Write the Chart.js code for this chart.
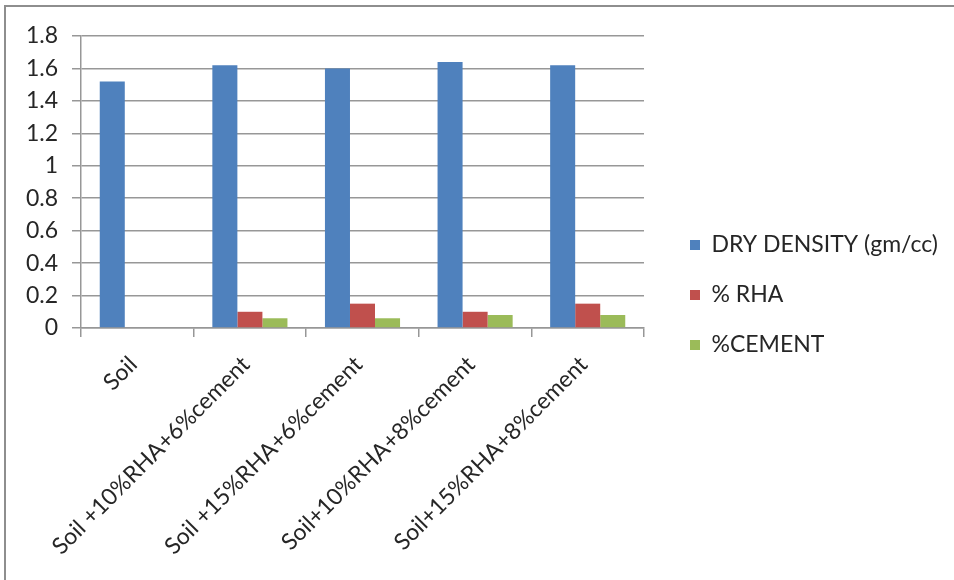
<!DOCTYPE html>
<html>
<head>
<meta charset="utf-8">
<script src="https://cdn.jsdelivr.net/npm/chart.js@4.4.1/dist/chart.umd.min.js"></script>
<style>
  html, body { margin: 0; padding: 0; background: #fff; }
  #wrap { position: relative; width: 954px; height: 580px; overflow: hidden; }
  #frame { position: absolute; left: 4px; top: 5px; right: -10px; bottom: -10px;
           border-top: 2px solid #8e8e8e; border-left: 2px solid #8e8e8e; pointer-events: none; }
  canvas { position: absolute; left: 0; top: 0; }
</style>
</head>
<body>
<div id="wrap">
  <canvas id="chart" width="954" height="580"></canvas>
  <div id="frame"></div>
</div>
<script>
// Mix designs tested
const categories = [
  'Soil',
  'Soil +10%RHA+6%cement',
  'Soil +15%RHA+6%cement',
  'Soil+10%RHA+8%cement',
  'Soil+15%RHA+8%cement'
];
// Series values
const dryDensity = [1.52, 1.62, 1.60, 1.64, 1.62];
const rhaPercent = [0, 0.10, 0.15, 0.10, 0.15];
const cementPercent = [0, 0.06, 0.06, 0.08, 0.08];
// Value axis
const yTicks = [0, 0.2, 0.4, 0.6, 0.8, 1, 1.2, 1.4, 1.6, 1.8];

const FONT = { family: 'Lato, "Open Sans", sans-serif', size: 23 };
const TEXT = '#262626';
const GRID = '#979797';
const LEGEND_WIDTH = 310;   // space reserved on the right for the legend
const LEGEND_INSET = 19;    // extra gap between plot area and legend keys
const LEGEND_RAISE = 13;    // lift the legend column slightly above centre

// Give the legend a fixed column width and place its keys
const legendLayout = {
  id: 'legendLayout',
  afterInit(chart) {
    const lg = chart.legend;
    if (!lg) return;
    const fit = lg.fit.bind(lg);
    lg.fit = function () { fit(); this.width = LEGEND_WIDTH; };
  },
  afterLayout(chart) {
    const lg = chart.legend;
    if (!lg) return;
    lg.left += LEGEND_INSET; lg.right += LEGEND_INSET;
    lg.top -= LEGEND_RAISE; lg.bottom -= LEGEND_RAISE;
  }
};

new Chart(document.getElementById('chart'), {
  type: 'bar',
  data: {
    labels: categories,
    datasets: [
      { label: 'DRY DENSITY (gm/cc)', data: dryDensity, backgroundColor: '#4F81BD' },
      { label: '% RHA', data: rhaPercent, backgroundColor: '#C0504D' },
      { label: '%CEMENT', data: cementPercent, backgroundColor: '#9BBB59' }
    ]
  },
  options: {
    responsive: false,
    animation: false,
    layout: { padding: { left: 10, top: 36, right: 0, bottom: 0 } },
    datasets: { bar: { categoryPercentage: 0.667, barPercentage: 1.0 } },
    plugins: {
      tooltip: { enabled: false },
      legend: {
        position: 'right',
        align: 'center',
        labels: {
          boxWidth: 10, boxHeight: 10, padding: 27,
          color: TEXT, font: FONT
        }
      }
    },
    scales: {
      x: {
        grid: { display: true, drawOnChartArea: false, drawTicks: true, tickLength: 9,
                color: GRID, lineWidth: 1.5, offset: true },
        border: { display: true, color: GRID, width: 1.5 },
        ticks: { color: TEXT, font: FONT, minRotation: 45, maxRotation: 45,
                 autoSkip: false, padding: 14, labelOffset: -4 },
        afterFit(scale) { scale.height = 580 - 328; }
      },
      y: {
        min: 0, max: 1.8,
        afterBuildTicks(scale) { scale.ticks = yTicks.map(v => ({ value: v })); },
        grid: { color: GRID, lineWidth: 1.5, tickLength: 9, drawTicks: true },
        border: { display: true, color: GRID, width: 1.5 },
        ticks: { color: TEXT, font: FONT, padding: 14,
                 callback: v => String(Math.round(v * 10) / 10) },
        afterFit(scale) { scale.width = 81 - 10; }
      }
    }
  },
  plugins: [legendLayout]
});
</script>
</body>
</html>
